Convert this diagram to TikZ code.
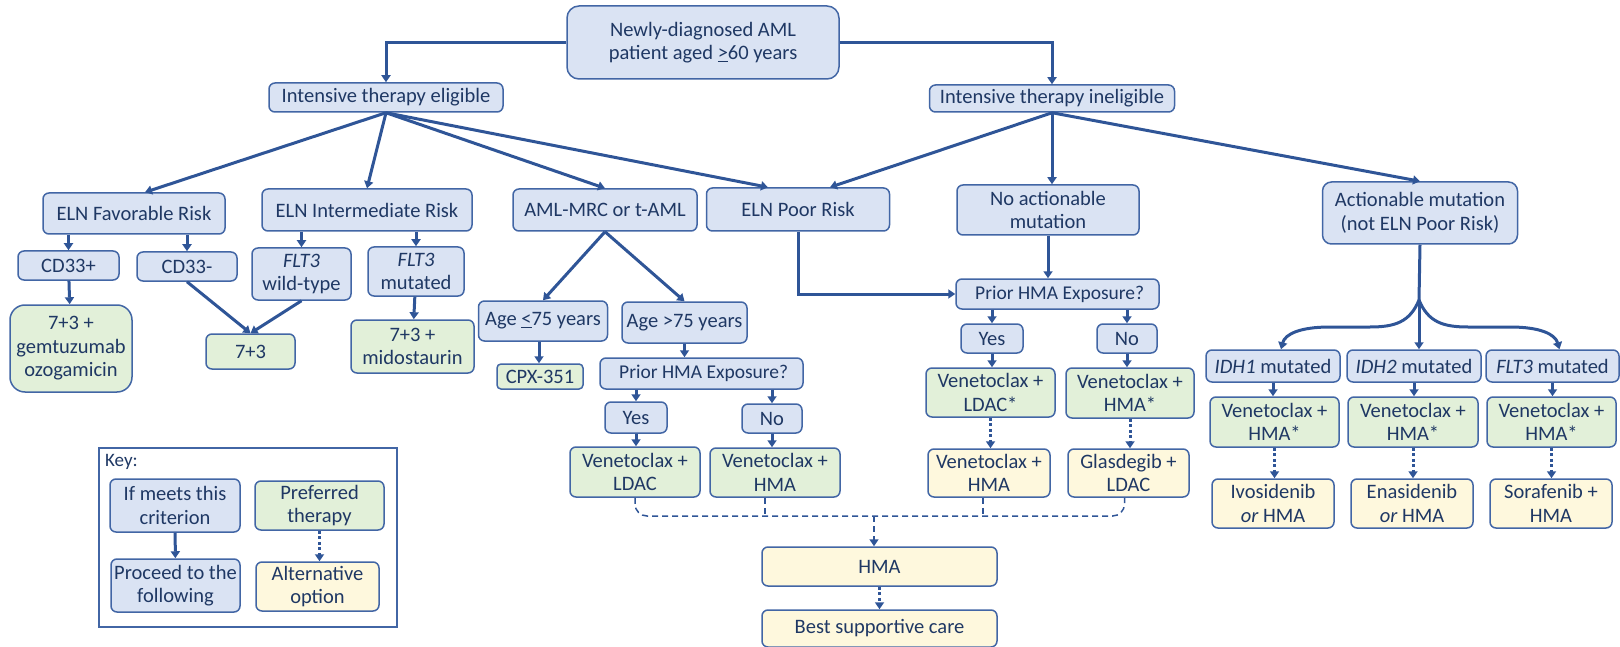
\documentclass[tikz,border=0pt]{standalone}
\usepackage{fontspec}
\setmainfont{Carlito}
\usetikzlibrary{arrows.meta}

\definecolor{critfill}{HTML}{DAE3F3}
\definecolor{preffill}{HTML}{E2F0D9}
\definecolor{altfill}{HTML}{FEF8DD}
\definecolor{boxline}{HTML}{4266A5}
\definecolor{arrline}{HTML}{2F5597}
\definecolor{txt}{HTML}{1F3864}

\tikzset{
    box/.style={draw=boxline, line width=1.5pt, rounded corners=6pt, align=center,
        text=txt, inner sep=1pt, font=\fontsize{20.5}{23.5}\selectfont},
    crit/.style={box, fill=critfill},
    pref/.style={box, fill=preffill},
    alt/.style={box, fill=altfill},
    wh/.style 2 args={minimum width=#1pt, minimum height=#2pt},
    arr/.style={draw=arrline, line width=3pt, -{Triangle[length=7pt,width=9pt]}},
    dotarr/.style={arr, dash pattern=on 3pt off 2.5pt},
    dashln/.style={draw=arrline, line width=1.5pt, dash pattern=on 6pt off 4pt},
}

\begin{document}
\begin{tikzpicture}[x=1pt, y=-1pt]
        \useasboundingbox (0,0) rectangle (1620,647);
        %% top
        \node[crit, wh={272}{73}, rounded corners=12pt] (new) at (703,42.5) {Newly-diagnosed AML\\patient aged \underline{>}60 years};
        \node[crit, wh={234}{29}] (elig) at (386,97.5) {Intensive therapy eligible};
        \node[crit, wh={245}{27}] (inelig) at (1052,98.5) {Intensive therapy ineligible};
        %% risk groups
        \node[crit, wh={182}{41}] (fav) at (134,213.5) {ELN Favorable Risk};
        \node[crit, wh={210}{42}] (int) at (367,210) {ELN Intermediate Risk};
        \node[crit, wh={184}{42}] (aml) at (605,210) {AML-MRC or t-AML};
        \node[crit, wh={183}{43}] (poor) at (798,209.5) {ELN Poor Risk};
        \node[crit, wh={182}{50}] (noact) at (1048,210) {No actionable\\mutation};
        \node[crit, wh={195}{62}, rounded corners=9pt] (act) at (1420,213) {Actionable mutation\\(not ELN Poor Risk)};
        % eligible branch
        \node[crit, wh={101}{29}] (cd33p) at (68.5,265.5) {CD33+};
        \node[crit, wh={100}{29}] (cd33n) at (187,266.5) {CD33-};
        \node[crit, wh={99}{52}] (flt3wt) at (301.5,274) {\textit{FLT3}\\wild-type};
        \node[crit, wh={96}{49}] (flt3mu) at (416,271.5) {\textit{FLT3}\\mutated};
        \node[pref, wh={122}{87}, rounded corners=15pt] (gem) at (71,348.5) {7+3 +\\gemtuzumab\\ozogamicin};
        \node[pref, wh={89}{35}] (seven3) at (250.5,351.5) {7+3};
        \node[pref, wh={123}{53}] (mido) at (412.5,346.5) {7+3 +\\midostaurin};
        \node[crit, wh={129}{40}] (agele) at (543,321) {Age \underline{<}75 years};
        \node[crit, wh={125}{41}] (agegt) at (684.5,322.5) {Age >75 years};
        \node[pref, wh={86}{25}, rounded corners=4pt] (cpx) at (540,376.5) {CPX-351};
        \node[crit, wh={203}{31}, font=\fontsize{19.5}{23}\selectfont] (hmaqa) at (701.5,373.5) {\ Prior HMA Exposure?};
        \node[crit, wh={62}{31}] (yesa) at (636,417.5) {Yes};
        \node[crit, wh={60}{29}] (noa) at (772,418.5) {No};
        \node[pref, wh={130}{50}] (vla) at (635,472) {Venetoclax +\\LDAC};
        \node[pref, wh={130}{49}] (vha) at (775,472.5) {Venetoclax +\\HMA};
        % ineligible branch
        \node[crit, wh={203}{30}, font=\fontsize{19.5}{23}\selectfont] (hmaqb) at (1057.5,294) {\ Prior HMA Exposure?};
        \node[crit, wh={62}{29}] (yesb) at (992,338.5) {Yes};
        \node[crit, wh={60}{29}] (nob) at (1127,338.5) {No};
        \node[pref, wh={129}{49}] (vlb) at (990.5,392.5) {Venetoclax +\\LDAC*};
        \node[pref, wh={128}{50}] (vhb) at (1130,393) {Venetoclax +\\HMA*};
        \node[alt, wh={122}{48}] (vhy) at (989,473) {Venetoclax +\\HMA};
        \node[alt, wh={121}{48}] (glas) at (1128.5,473) {Glasdegib +\\LDAC};
        \node[alt, wh={235}{39}] (hma) at (879.5,566.5) {HMA};
        \node[alt, wh={235}{37}] (bsc) at (879.5,628.5) {Best supportive care};
        % actionable mutations
        \node[crit, wh={134}{32}] (idha) at (1273,366) {\textit{IDH1} mutated};
        \node[crit, wh={134}{32}] (idhb) at (1414,366) {\textit{IDH2} mutated};
        \node[crit, wh={133}{32}] (flt3m) at (1552.5,366) {\textit{FLT3} mutated};
        \node[pref, wh={129}{50}] (via) at (1274.5,422) {Venetoclax +\\HMA*};
        \node[pref, wh={130}{50}] (vib) at (1413,422) {Venetoclax +\\HMA*};
        \node[pref, wh={129}{50}] (vic) at (1551.5,422) {Venetoclax +\\HMA*};
        \node[alt, wh={122}{49}] (ivo) at (1273,503.5) {Ivosidenib\\\textit{or} HMA};
        \node[alt, wh={122}{49}] (ena) at (1412,503.5) {Enasidenib\\\textit{or} HMA};
        \node[alt, wh={122}{49}] (sora) at (1551,503.5) {Sorafenib +\\HMA};
        % key
        \node[draw=boxline, line width=2pt, wh={298}{179}] (keybox) at (248,537.5) {};
        \node[anchor=west, text=txt, inner sep=0pt, font=\fontsize{19}{22}\selectfont] (keylbl) at (105,462) {Key:};
        \node[crit, wh={130}{53}] (keya) at (175,505.5) {If meets this\\criterion};
        \node[pref, wh={129}{49}] (keyb) at (319.5,505.5) {Preferred\\therapy};
        \node[crit, wh={129}{53}] (keyc) at (175.5,585.5) {Proceed to the\\following};
        \node[alt, wh={123}{49}] (keyd) at (317.5,586.5) {Alternative\\option};

        %% connectors
        \draw[arr] (new.west) -| (elig.north);
        \draw[arr] (new.east) -| (inelig.north);
        \foreach \s/\t in {11/fav, 0/int, 0/aml, -30/poor}{
            \draw[arr] (elig.south) -- ([xshift=\s pt]\t.north);
        }
        \draw[arr] (inelig.south) -- ([xshift=32pt]poor.north);
        \draw[arr] (inelig.south) -- (inelig.south |- noact.north);
        \draw[arr] (inelig.south) -- (act.north);
        % eligible branch
        \foreach \a/\b in {fav/cd33p, fav/cd33n, int/flt3wt, int/flt3mu}{
            \draw[arr] (\b.north |- \a.south) -- (\b.north);
        }
        \draw[arr] (cd33p) -- (gem);
        \draw[arr] (cd33n.south) -- (seven3.north);
        \draw[arr] (flt3wt.south) -- (seven3.north);
        \draw[arr] (flt3mu) -- (mido);
        \draw[arr] (aml.south) -- (agele.north);
        \draw[arr] (aml.south) -- (agegt.north);
        \draw[arr] ([xshift=-4pt]agele.south) -- ([xshift=-4pt]agele.south |- cpx.north);
        \draw[arr] (agegt.south) -- (agegt.south |- hmaqa.north);
        \draw[arr] (yesa.north |- hmaqa.south) -- (yesa.north);
        \draw[arr] (noa.north |- hmaqa.south) -- (noa.north);
        \draw[arr] (yesa.south) -- (yesa.south |- vla.north);
        \draw[arr] (noa.south) -- (noa.south |- vha.north);
        % ineligible branch
        \draw[arr] (poor.south) |- (hmaqb.west);
        \draw[arr] (noact.south) -- (noact.south |- hmaqb.north);
        \draw[arr] (yesb.north |- hmaqb.south) -- (yesb.north);
        \draw[arr] (nob.north |- hmaqb.south) -- (nob.north);
        \draw[arr] (yesb.south) -- (yesb.south |- vlb.north);
        \draw[arr] (nob.south) -- (nob.south |- vhb.north);
        \draw[dotarr] (vlb.south) -- (vlb.south |- vhy.north);
        \draw[dotarr] (vhb.south) -- (vhb.south |- glas.north);
        % dashed merge to HMA
        \coordinate (mrg) at (874,516);
        \draw[dashln, rounded corners=12pt] (vla.south) |- (mrg) -| ([xshift=-4pt]glas.south);
        \draw[dashln] ([xshift=-10pt]vha.south) -- ([xshift=-10pt]vha.south |- mrg);
        \draw[dashln] ([xshift=-6pt]vhy.south) -- ([xshift=-6pt]vhy.south |- mrg);
        \draw[dashln, -{Triangle[length=7pt,width=9pt]}] (mrg) -- (mrg |- hma.north);
        \draw[dotarr] (hma) -- (bsc);
        % actionable fork
        \coordinate (fork) at (1419,300);
        \draw[draw=arrline, line width=3pt] (act.south) -- (fork);
        \draw[arr] (fork) -- (fork |- idhb.north);
        \draw[arr] (fork) .. controls (1410,322) and (1395,327) .. (1370,327) -- (1330,327) .. controls (1300,327) and (1285,334) .. ([xshift=8pt]idha.north);
        \draw[arr] (fork) .. controls (1428,322) and (1443,327) .. (1468,327) -- (1510,327) .. controls (1540,327) and (1555,334) .. ([xshift=7pt]flt3m.north);
        \foreach \a/\b/\c in {idha/via/ivo, idhb/vib/ena, flt3m/vic/sora}{
            \draw[arr] (\a.south) -- (\a.south |- \b.north);
            \draw[dotarr] (\b.south) -- (\b.south |- \c.north);
        }
        % key
        \draw[arr] (keya) -- (keyc);
        \draw[dotarr] (keyb) -- (keyb |- keyd.north);
    \end{tikzpicture}
\end{document}
